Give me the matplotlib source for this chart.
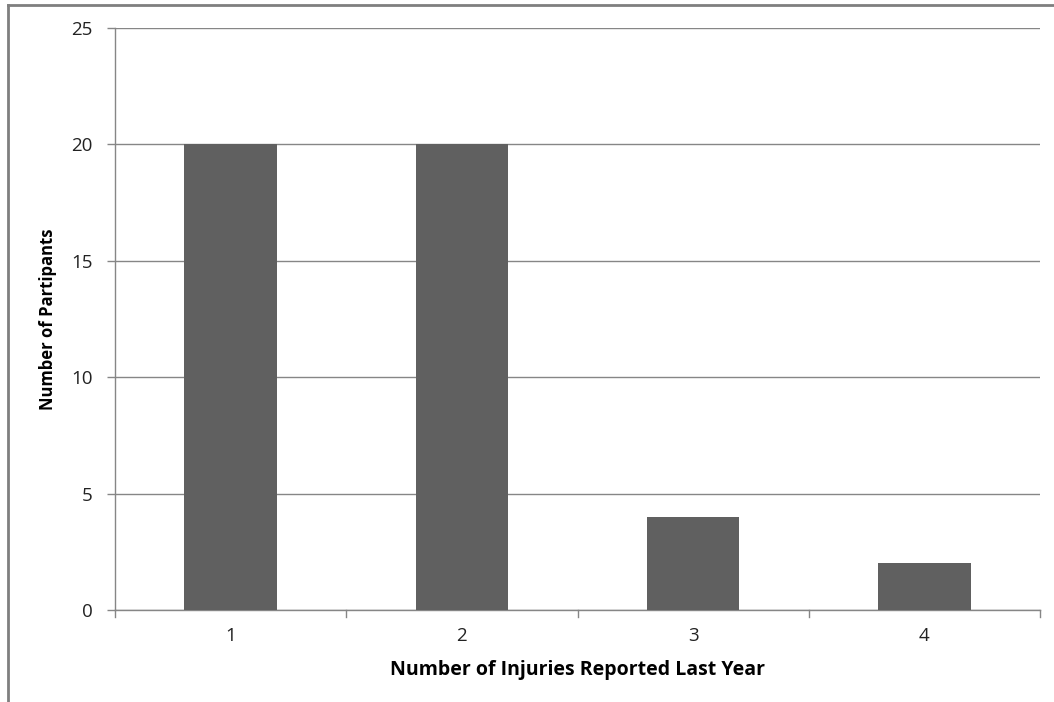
import matplotlib
matplotlib.use("Agg")
import matplotlib.pyplot as plt
from matplotlib.lines import Line2D

injuries = ["1", "2", "3", "4"]
participants = [20, 20, 4, 2]
y_ticks = [0, 5, 10, 15, 20, 25]

W, H = 1054, 702
fig = plt.figure(figsize=(W / 100, H / 100), dpi=100)
fig.patch.set_facecolor("white")

# plot area in pixel terms
left, right, top, bottom = 115, 1040, 28, 610
ax = fig.add_axes([left / W, 1 - bottom / H, (right - left) / W, (bottom - top) / H])

font = "Open Sans"
grid_col = "#868686"

x = list(range(len(injuries)))
ax.bar(x, participants, width=0.4, color="#606060", zorder=3)

ax.set_xlim(-0.5, len(injuries) - 0.5)
ax.set_ylim(0, 25)
ax.set_yticks(y_ticks)
ax.set_yticklabels([str(v) for v in y_ticks], fontsize=13.5, family=font, color="#222222")
ax.yaxis.grid(True, color=grid_col, linewidth=1, zorder=0)

ax.set_xticks(x)
ax.set_xticklabels(injuries, fontsize=13.5, family=font, color="#222222")
ax.tick_params(axis="x", length=0, pad=12)
ax.tick_params(axis="y", length=6, color=grid_col, width=1, pad=10)

# category boundary ticks below the x axis
for b in [i - 0.5 for i in range(len(injuries) + 1)]:
    ax.plot([b, b], [0, -0.3], color=grid_col, linewidth=1, clip_on=False, zorder=4)

for side in ["top", "right"]:
    ax.spines[side].set_visible(False)
for side in ["left", "bottom"]:
    ax.spines[side].set_color(grid_col)
    ax.spines[side].set_linewidth(1)

ax.set_xlabel("Number of Injuries Reported Last Year", fontsize=14, fontweight="bold",
              family=font, labelpad=11)
ax.set_ylabel("Number of Partipants", fontsize=12, fontweight="bold", family=font, labelpad=10)

# outer chart frame (top and left edges)
frame_col = "#7f7f7f"
fig.add_artist(Line2D([8 / W, 1], [1 - 5 / H, 1 - 5 / H], transform=fig.transFigure,
                      color=frame_col, linewidth=2))
fig.add_artist(Line2D([8 / W, 8 / W], [0, 1 - 5 / H], transform=fig.transFigure,
                      color=frame_col, linewidth=2))

fig.savefig("out.png", dpi=100, facecolor="white")
